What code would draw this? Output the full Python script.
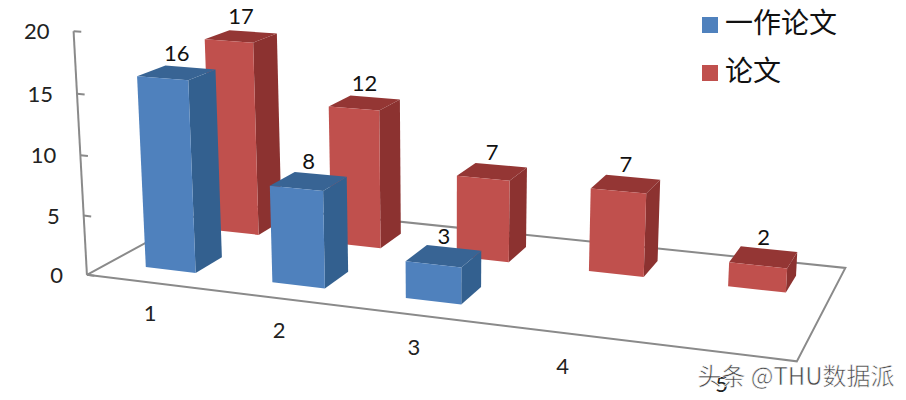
import numpy as np, pandas as pd, altair as alt

# Chart values
categories = ["1", "2", "3", "4", "5"]
series_names = ["一作论文", "论文"]
first_author = [16, 8, 3]
papers = [17, 12, 7, 7, 2]
y_ticks = [0, 5, 10, 15, 20]
x_label_shift = [.34, .28, .21, .18, .15]
x_label_depth = [-.59, -.59, -.59, -.59, -.55]

# Camera of the 3-D plot: (category, depth slot, value) -> page pixel
P = np.array([[119.632, 80.68483, -0.7892596, 25.99924],
              [7.774664, -21.12157, -12.07691, 267.404],
              [-0.02575061, 0.07081903, -0.001769822, 1.0]])
W = 0.2
MARGIN = 8

def proj(u, v, z):
    q = P @ np.array([u, v, z, 1.0])
    return [float(q[0] / q[2] - MARGIN), float(q[1] / q[2] - MARGIN)]

BLUE = ("#4f81bd", "#386494", "#33608f")
RED = ("#c0504d", "#943634", "#8c3230")

def poly(pts, key):
    return {"type": "Feature", "properties": {"key": key},
            "geometry": {"type": "Polygon", "coordinates": [pts + [pts[0]]]}}

def line(pts):
    return {"type": "Feature", "properties": {},
            "geometry": {"type": "LineString", "coordinates": pts}}

faces = []
labels = []

def add(u, s, z, name):
    v0, v1, a, b = s + 0.3, s + 0.7, u - W, u + W
    faces.append(poly([proj(b, v0, 0), proj(b, v1, 0), proj(b, v1, z), proj(b, v0, z)], name + " side"))
    faces.append(poly([proj(a, v0, z), proj(b, v0, z), proj(b, v1, z), proj(a, v1, z)], name + " top"))
    faces.append(poly([proj(a, v0, 0), proj(b, v0, 0), proj(b, v0, z), proj(a, v0, z)], name))
    x, y = proj(u, s + 0.5, z)
    labels.append({"lon": x, "lat": y - 19, "t": str(z)})

for i, z in enumerate(papers):
    add(i + 1, 1, z, series_names[1])
for i, z in enumerate(first_author):
    add(i + 1, 0, z, series_names[0])

lines = [line([proj(.5, 0, 0), proj(5.5, 0, 0), proj(5.5, 2, 0), proj(.5, 2, 0), proj(.5, 0, 0)]),
         line([proj(.5, 0, 0), proj(.5, 0, 20)])]
for t in y_ticks:
    lines.append(line([proj(.5, 0, t), proj(.56, 0, t)]))

ylab = [{"lon": proj(.5, 0, t)[0] - 24, "lat": proj(.5, 0, t)[1] + 1, "t": str(t)} for t in y_ticks]
xlab = [{"lon": proj(i + 1 + d, e, 0)[0], "lat": proj(i + 1 + d, e, 0)[1], "t": c}
        for i, (c, d, e) in enumerate(zip(categories, x_label_shift, x_label_depth))]

pj = dict(type="identity", scale=1, translate=[0, 0])
keys = [series_names[0], series_names[1], series_names[0] + " top", series_names[0] + " side",
        series_names[1] + " top", series_names[1] + " side"]
rng = [BLUE[0], RED[0], BLUE[1], BLUE[2], RED[1], RED[2]]

lyr_lines = alt.Chart(alt.Data(values=lines, format=alt.DataFormat(type="json"))).mark_geoshape(
    filled=False, stroke="#8a8a8a", strokeWidth=2).project(**pj)
lyr_faces = alt.Chart(alt.Data(values=faces, format=alt.DataFormat(type="json"))).mark_geoshape().encode(
    fill=alt.Fill("properties.key:N", scale=alt.Scale(domain=keys, range=rng),
                  legend=alt.Legend(title=None, values=series_names, orient="none", legendX=688, legendY=3,
                                    symbolType="square", symbolSize=256, symbolStrokeWidth=0,
                                    labelFontSize=28, labelFont="Noto Sans CJK SC", labelColor="#111",
                                    rowPadding=20, labelOffset=1, labelLimit=200))
).project(**pj)

def txt(rows, font="Lato", **kw):
    return alt.Chart(pd.DataFrame(rows)).mark_text(font=font, **kw).encode(
        longitude="lon:Q", latitude="lat:Q", text="t:N").project(**pj)

wm = [{"lon": 796 - MARGIN, "lat": 378 - MARGIN, "t": "头条 @THU数据派"}]

chart = alt.layer(
    lyr_lines, lyr_faces,
    txt(labels, fontSize=22, color="#111", align="center", baseline="middle"),
    txt(ylab, fontSize=22, color="#222", align="right", baseline="middle"),
    txt(xlab, fontSize=22, color="#222", align="center", baseline="middle"),
    txt(wm, font="Noto Sans CJK SC", fontSize=24, color="#444", stroke="white", strokeWidth=.6,
        align="center", baseline="middle"),
).properties(width=890, height=384, padding=0).configure_view(stroke=None)
chart.save("out.html", embed_options={"renderer": "svg", "actions": False})
